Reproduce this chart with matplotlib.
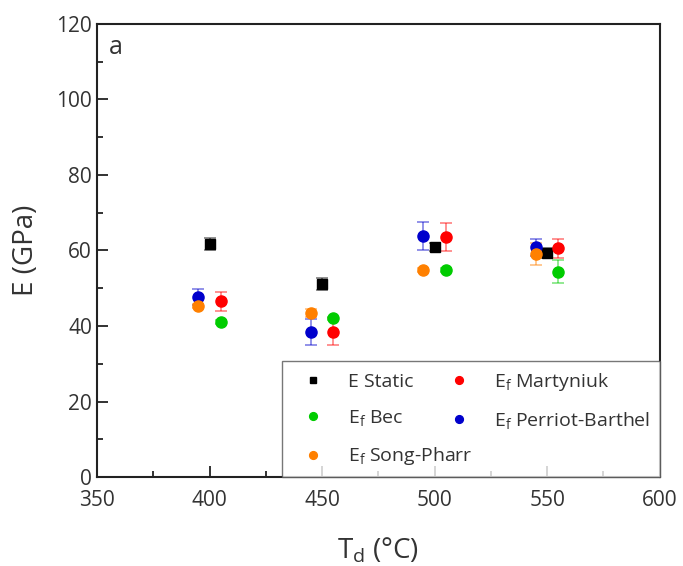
import matplotlib
matplotlib.use('Agg')
import matplotlib.pyplot as plt
from matplotlib.ticker import MultipleLocator

plt.rcParams['font.family'] = ['Open Sans', 'DejaVu Sans']
plt.rcParams['mathtext.fontset'] = 'custom'
plt.rcParams['mathtext.rm'] = 'Open Sans'
plt.rcParams['mathtext.it'] = 'Open Sans'

# E static
t_static = [400, 450, 500, 550]
e_static = [61.7, 51.1, 60.9, 59.3]
err_static = [1.5, 1.6, 1.0, 1.3]

# Ef Martyniuk
t_mart = [405, 455, 505, 555]
e_mart = [46.6, 38.5, 63.5, 60.6]
err_mart = [2.5, 3.5, 3.7, 2.5]

# Ef Bec
t_bec = [405, 455, 505, 555]
e_bec = [41.0, 42.0, 54.8, 54.4]
err_bec = [0.5, 0.5, 0.5, 3.1]

# Ef Perriot-Barthel
t_pb = [395, 445, 495, 545]
e_pb = [47.6, 38.4, 63.7, 60.8]
err_pb = [2.1, 3.4, 3.7, 2.3]

# Ef Song-Pharr
t_sp = [395, 445, 495, 545]
e_sp = [45.3, 43.4, 54.8, 59.1]
err_sp = [0.5, 1.0, 0.5, 3.0]

fig = plt.figure(figsize=(6.83, 5.66), dpi=100)
ax = fig.add_axes([0.142, 0.157, 0.824, 0.801])

series = [
    (t_static, e_static, err_static, 's', 'black', 7, 'E Static'),
    (t_mart, e_mart, err_mart, 'o', '#ff0000', 8, r'E$_\mathrm{f}$ Martyniuk'),
    (t_bec, e_bec, err_bec, 'o', '#00cc00', 8, r'E$_\mathrm{f}$ Bec'),
    (t_pb, e_pb, err_pb, 'o', '#0000cc', 8, r'E$_\mathrm{f}$ Perriot-Barthel'),
    (t_sp, e_sp, err_sp, 'o', '#ff8000', 8, r'E$_\mathrm{f}$ Song-Pharr'),
]
handles = {}
for t, e, err, m, c, ms, lab in series:
    ax.errorbar(t, e, yerr=err, fmt='none', ecolor=c, alpha=0.5,
                capsize=4, elinewidth=1.2, capthick=1.2, zorder=2)
    h, = ax.plot(t, e, ls='none', marker=m, color=c, ms=ms, label=lab, zorder=3)
    handles[lab] = h

ax.set_xlim(350, 600)
ax.set_ylim(0, 120)
ax.xaxis.set_major_locator(MultipleLocator(50))
ax.xaxis.set_minor_locator(MultipleLocator(25))
ax.yaxis.set_major_locator(MultipleLocator(20))
ax.yaxis.set_minor_locator(MultipleLocator(10))
ax.tick_params(which='both', direction='in', top=False, right=False,
               labelsize=15, colors='#222222', labelcolor='#333333', width=1.3)
ax.tick_params(which='major', length=8)
ax.tick_params(which='minor', length=4)
ax.tick_params(axis='x', pad=9)
for s in ax.spines.values():
    s.set_linewidth(1.5)
    s.set_color('#222222')

ax.set_xlabel(r'T$_\mathrm{d}$ (°C)', fontsize=20, labelpad=18, color='#333333')
ax.set_ylabel('E (GPa)', fontsize=20, labelpad=12, color='#333333')
ax.text(0.022, 0.975, 'a', transform=ax.transAxes, fontsize=18, va='top',
        color='#333333')

order = ['E Static', r'E$_\mathrm{f}$ Bec', r'E$_\mathrm{f}$ Song-Pharr',
         r'E$_\mathrm{f}$ Martyniuk', r'E$_\mathrm{f}$ Perriot-Barthel']
leg = ax.legend([handles[k] for k in order], order, ncol=2, loc='lower right',
                bbox_to_anchor=(1, 0), borderaxespad=0, fontsize=14,
                frameon=True, fancybox=False, edgecolor='#555555',
                markerscale=0.7, handlelength=2.2, handletextpad=0.7,
                columnspacing=-1.8, labelspacing=0.88, borderpad=0.5)
for txt in leg.get_texts():
    txt.set_color('#333333')
leg.get_frame().set_linewidth(1.0)
leg.set_zorder(5)

fig.savefig('out.png', dpi=100)
